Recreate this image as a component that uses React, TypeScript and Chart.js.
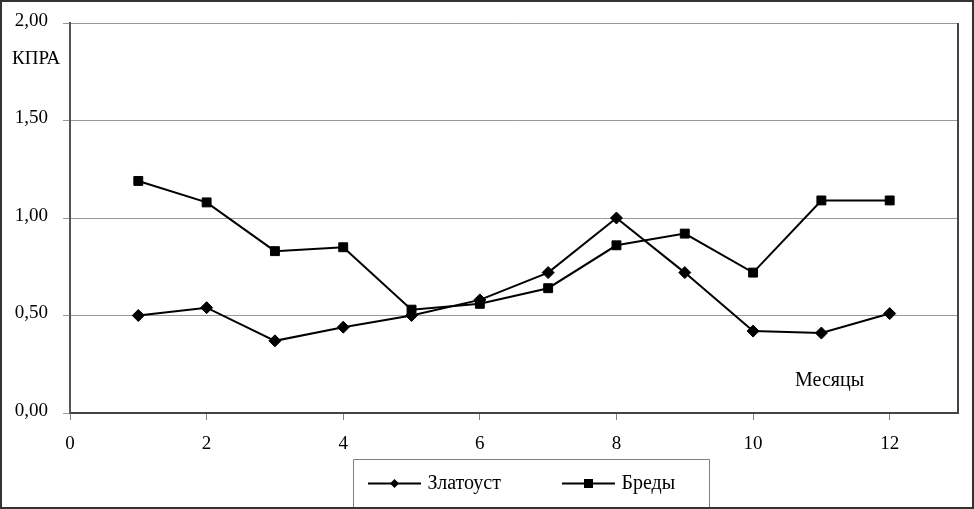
import React, { useEffect, useRef } from "react";
import { Chart, registerables } from "chart.js";

Chart.register(...registerables);

const months = [1, 2, 3, 4, 5, 6, 7, 8, 9, 10, 11, 12];
const zlatoust = [0.5, 0.54, 0.37, 0.44, 0.5, 0.58, 0.72, 1.0, 0.72, 0.42, 0.41, 0.51];
const bredy = [1.19, 1.08, 0.83, 0.85, 0.53, 0.56, 0.64, 0.86, 0.92, 0.72, 1.09, 1.09];
const seriesNames = ["Златоуст", "Бреды"];
const yTitle = "КПРА";
const xTitle = "Месяцы";

const FONT = '"Liberation Serif", "Times New Roman", serif';

const framePlugin = {
  id: "framePlugin",
  beforeDraw(chart: any) {
    const { ctx, width, height } = chart;
    ctx.save();
    ctx.fillStyle = "#ffffff";
    ctx.fillRect(0, 0, width, height);
    ctx.restore();
  },
  afterDraw(chart: any) {
    const { ctx, chartArea: a, width, height } = chart;
    ctx.save();
    // right border of plot area
    ctx.strokeStyle = "#444444";
    ctx.lineWidth = 2;
    ctx.beginPath();
    ctx.moveTo(a.right, a.top);
    ctx.lineTo(a.right, a.bottom + 1);
    ctx.stroke();

    // axis titles
    ctx.fillStyle = "#000";
    ctx.font = `19px ${FONT}`;
    ctx.textBaseline = "middle";
    ctx.textAlign = "left";
    ctx.fillText(yTitle, a.left - 58, a.top + 36);
    ctx.font = `20px ${FONT}`;
    ctx.fillText(xTitle, a.right - 163, a.bottom - 32);

    // legend box
    const bx = a.left + 283.5;
    const bw = 356;
    const by = a.bottom + 46.5;
    ctx.strokeStyle = "#808080";
    ctx.lineWidth = 1;
    ctx.beginPath();
    ctx.moveTo(bx, height);
    ctx.lineTo(bx, by);
    ctx.lineTo(bx + bw, by);
    ctx.lineTo(bx + bw, height);
    ctx.stroke();

    const ly = by + 24;
    chart.data.datasets.forEach((ds: any, i: number) => {
      const x0 = bx + 14.5 + i * 194;
      ctx.strokeStyle = "#000";
      ctx.lineWidth = 2;
      ctx.beginPath();
      ctx.moveTo(x0, ly);
      ctx.lineTo(x0 + 53, ly);
      ctx.stroke();
      ctx.fillStyle = "#000";
      const mx = x0 + 26.5;
      ctx.beginPath();
      if (ds.pointStyle === "rectRot") {
        ctx.moveTo(mx - 4.5, ly);
        ctx.lineTo(mx, ly - 4.5);
        ctx.lineTo(mx + 4.5, ly);
        ctx.lineTo(mx, ly + 4.5);
        ctx.closePath();
      } else {
        ctx.rect(mx - 4.5, ly - 4.5, 9, 9);
      }
      ctx.fill();
      ctx.font = `20px ${FONT}`;
      ctx.textAlign = "left";
      ctx.textBaseline = "middle";
      ctx.fillText(ds.label, x0 + 59.5, ly);
    });

    // outer frame
    ctx.strokeStyle = "#333333";
    ctx.lineWidth = 2;
    ctx.strokeRect(1, 1, width - 2, height - 2);
    ctx.restore();
  },
};

export default function App() {
  const ref = useRef<HTMLCanvasElement | null>(null);

  useEffect(() => {
    if (!ref.current) return;
    const chart = new Chart(ref.current, {
      type: "line",
      data: {
        datasets: [
          {
            label: seriesNames[0],
            data: months.map((m, i) => ({ x: m, y: zlatoust[i] })),
            borderColor: "#000",
            backgroundColor: "#000",
            borderWidth: 2,
            pointStyle: "rectRot",
            pointRadius: 6,
            pointBorderWidth: 1,
            tension: 0,
          },
          {
            label: seriesNames[1],
            data: months.map((m, i) => ({ x: m, y: bredy[i] })),
            borderColor: "#000",
            backgroundColor: "#000",
            borderWidth: 2,
            pointStyle: "rect",
            pointRadius: 6.3,
            pointBorderWidth: 1,
            tension: 0,
          },
        ],
      },
      options: {
        animation: false,
        responsive: false,
        devicePixelRatio: 1,
        layout: { padding: { top: 23, right: 16, bottom: 46, left: 0 } },
        plugins: {
          legend: { display: false },
          tooltip: { enabled: false },
        },
        scales: {
          x: {
            type: "linear",
            min: 0,
            max: 13,
            afterFit: (s: any) => {
              s.height = 50;
              s.paddingLeft = 0;
              s.paddingRight = 0;
            },
            ticks: {
              stepSize: 2,
              includeBounds: false,
              maxRotation: 0,
              padding: 13,
              color: "#000",
              font: { family: FONT, size: 19 },
            },
            grid: {
              drawOnChartArea: false,
              drawTicks: true,
              tickLength: 7,
              color: "#808080",
            },
            border: { display: true, color: "#444444", width: 2 },
          },
          y: {
            min: 0,
            max: 2,
            afterFit: (s: any) => {
              s.width = 70;
              s.paddingTop = 0;
              s.paddingBottom = 0;
            },
            ticks: {
              stepSize: 0.5,
              padding: 15,
              labelOffset: -2,
              color: "#000",
              font: { family: FONT, size: 19 },
              callback: (v: any) => Number(v).toFixed(2).replace(".", ","),
            },
            grid: {
              color: "#999999",
              drawTicks: true,
              tickLength: 7,
            },
            border: { display: true, color: "#555555", width: 2 },
          },
        },
      },
      plugins: [framePlugin],
    });
    return () => chart.destroy();
  }, []);

  return (
    <div style={{ position: "fixed", left: 0, top: 0, width: 974, height: 509 }}>
      <canvas ref={ref} width={974} height={509} style={{ width: 974, height: 509, display: "block" }} />
    </div>
  );
}
